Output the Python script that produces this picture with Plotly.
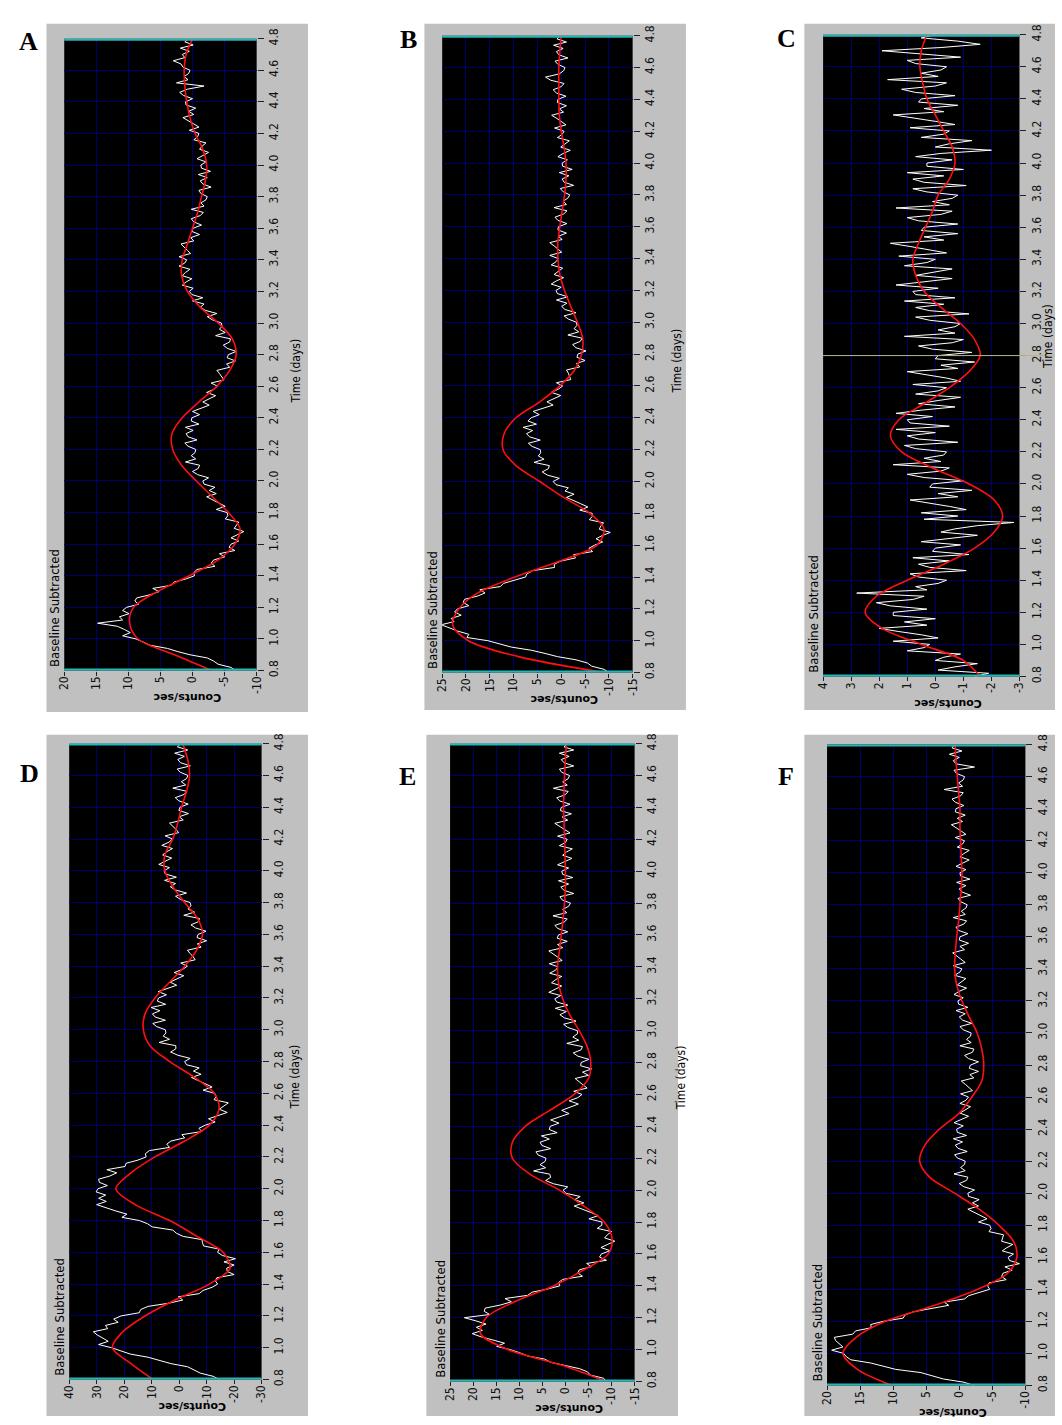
import plotly.graph_objects as go

W, H = 1062, 1425

# ---- sampling grids (days) ----
raw_days = [round(0.8 + 0.02 * i, 2) for i in range(201)]
fit_days = [round(0.8 + 0.1 * i, 1) for i in range(41)]

time_ticks = [0.8, 1.0, 1.2, 1.4, 1.6, 1.8, 2.0, 2.2, 2.4, 2.6, 2.8,
              3.0, 3.2, 3.4, 3.6, 3.8, 4.0, 4.2, 4.4, 4.6, 4.8]
time_labels = ["0.8", "1.0", "1.2", "1.4", "1.6", "1.8", "2.0", "2.2", "2.4", "2.6", "2.8",
               "3.0", "3.2", "3.4", "3.6", "3.8", "4.0", "4.2", "4.4", "4.6", "4.8"]

counts_ticks_A = [20, 15, 10, 5, 0, -5, -10]
counts_ticks_B = [25, 20, 15, 10, 5, 0, -5, -10, -15]
counts_ticks_C = [4, 3, 2, 1, 0, -1, -2, -3]
counts_ticks_D = [40, 30, 20, 10, 0, -10, -20, -30]
counts_ticks_E = [25, 20, 15, 10, 5, 0, -5, -10, -15]
counts_ticks_F = [20, 15, 10, 5, 0, -5, -10]

# ---- baseline-subtracted counts (every 0.02 d) and fitted curves (every 0.1 d) ----
raw_A = [
    -6.7, -6.0, -4.0, -3.3, -2.3, 0.4, 2.3, 3.9, 6.6, 7.8,
    8.8, 10.9, 9.7, 10.6, 11.7, 14.8, 10.9, 11.4, 9.9, 10.9,
    10.3, 8.4, 9.0, 8.7, 6.6, 5.2, 6.2, 3.3, 2.9, 1.0,
    -0.3, -0.2, -0.7, -3.5, -2.9, -3.3, -5.0, -4.2, -6.6, -5.7,
    -6.0, -7.2, -6.0, -7.0, -8.0, -6.5, -6.8, -7.2, -5.1, -5.5,
    -5.4, -3.7, -5.1, -4.2, -3.2, -2.2, -3.7, -2.6, -3.5, -1.8,
    -1.6, -2.5, -0.8, 0.0, -0.9, -1.1, 1.1, -0.5, 0.2, -0.4,
    -0.5, 0.7, 1.2, -0.7, 0.7, 1.0, -0.1, 1.1, -1.0, 0.2,
    0.1, -1.1, 0.0, -1.2, -2.6, -1.6, -2.5, -3.6, -2.2, -3.3,
    -3.9, -2.9, -4.9, -4.6, -4.2, -3.8, -5.8, -5.3, -6.7, -5.4,
    -5.6, -6.8, -5.4, -4.8, -5.8, -5.9, -3.6, -5.1, -4.2, -4.6,
    -4.5, -3.1, -2.3, -3.8, -2.0, -1.2, -1.8, 0.0, -1.6, 0.1,
    0.5, -0.1, 1.6, 1.0, 0.1, 1.6, 1.1, 0.4, 2.1, 1.2,
    0.9, 2.1, 0.3, 0.8, 1.3, 1.8, -0.2, 0.3, -1.1, 0.1,
    -0.1, -1.4, -0.2, 0.2, -1.2, -1.7, 0.2, -1.8, -1.3, -2.1,
    -2.3, -1.3, -1.0, -2.9, -1.6, -1.2, -2.3, -0.9, -2.8, -1.4,
    -1.3, -2.1, -0.7, -1.5, -2.5, -1.1, -1.5, -2.1, -0.2, -0.8,
    -1.0, 0.5, -1.0, -0.2, 0.6, 1.5, -0.2, 0.6, -0.5, 1.0,
    1.1, 0.0, 1.4, 2.0, 0.8, -1.8, 2.5, 0.7, 1.3, 0.6,
    0.4, 1.5, 1.8, 3.0, 1.2, 1.6, 0.5, 1.9, -0.1, 1.2,
    0.6,
]
fit_A = [-3.0, 2.8, 8.5, 9.8, 9.2, 5.5, 0.5, -4.0, -6.6, -7.4,
         -5.6, -3.1, -0.6, 1.7, 3.1, 3.2, 1.6, -1.0, -3.8, -5.8,
         -6.8, -6.2, -4.0, -1.2, 0.8, 1.7, 1.6, 0.8, 0.0, -0.8,
         -1.4, -2.0, -2.2, -1.6, -0.4, 0.4, 0.9, 1.2, 1.3, 1.0, 0.0]

raw_B = [
    -10.0, -9.0, -6.4, -5.5, -3.1, 0.8, 3.4, 6.3, 10.5, 12.9,
    15.4, 19.8, 19.4, 21.7, 23.7, 25.2, 22.5, 23.1, 21.0, 22.4,
    21.8, 19.4, 20.6, 20.3, 17.6, 16.0, 17.1, 12.8, 12.1, 9.5,
    7.5, 7.2, 6.0, 1.4, 1.5, 0.1, -3.0, -2.6, -6.6, -5.8,
    -7.0, -8.7, -7.3, -8.6, -10.3, -8.0, -8.3, -8.9, -5.9, -6.5,
    -6.5, -3.9, -5.6, -4.1, -2.5, -1.1, -2.7, -0.8, -1.5, 1.1,
    1.7, 0.4, 2.9, 4.0, 2.7, 2.5, 5.7, 3.6, 4.8, 4.3,
    4.4, 6.1, 6.9, 4.4, 6.6, 7.3, 6.0, 8.0, 5.2, 7.0,
    6.3, 4.6, 5.9, 4.0, 1.7, 3.0, 1.7, 0.1, 2.1, 0.6,
    -0.3, 1.0, -2.0, -1.8, -1.5, -1.1, -3.9, -3.2, -5.0, -3.3,
    -3.5, -5.2, -3.1, -2.4, -4.0, -4.4, -1.4, -3.7, -2.7, -3.3,
    -3.2, -1.5, -0.6, -3.1, -0.8, -0.1, -1.2, 1.0, -1.4, 0.8,
    1.1, 0.0, 2.1, 1.0, -0.5, 1.5, 0.7, -0.3, 2.1, 1.1,
    0.6, 2.4, -0.1, 0.6, 1.5, 2.4, -0.2, 0.6, -1.1, 0.7,
    0.6, -1.2, 0.7, 1.3, -0.5, -1.2, 1.5, -1.1, -0.4, -1.4,
    -1.8, -0.4, 0.2, -2.6, -0.6, -0.2, -1.6, 0.4, -2.3, -0.3,
    -0.2, -1.3, 0.7, -0.4, -1.9, 0.1, -0.7, -1.7, 0.8, -0.2,
    -0.6, 1.4, -1.0, -0.1, 0.9, 2.0, -0.5, 0.4, -1.1, 0.8,
    0.7, -1.0, 1.0, 1.7, 0.0, -0.6, 2.2, 3.3, 0.4, -0.5,
    -0.8, 0.7, 1.3, -1.4, 0.5, 1.0, -0.4, 1.6, -1.1, 0.9,
    0.2,
]
fit_B = [-9.0, 9.0, 19.5, 22.8, 21.5, 17.5, 9.7, 0.3, -7.5, -9.0,
         -6.0, -0.5, 4.5, 9.5, 12.2, 12.0, 9.5, 4.5, 0.3, -2.8,
         -4.3, -4.5, -3.4, -2.0, -0.7, 0.3, 0.7, 0.7, 0.3, -0.2,
         -0.7, -1.0, -1.0, -0.6, 0.0, 0.4, 0.5, 0.5, 0.5, 0.3, 0.0]

raw_C = [
    -1.4, -1.9, -0.1, -0.7, -1.5, 0.0, -0.3, -0.9, 1.0, 0.4,
    0.2, 1.5, -0.1, 0.5, 1.3, 2.0, 0.3, 1.1, 0.0, 1.5,
    1.5, 0.3, 1.6, 2.1, 0.8, 0.4, 2.8, 0.3, 0.7, -0.1,
    -0.4, 0.6, 0.9, -1.1, 0.2, 0.6, -0.5, 0.8, -1.2, 0.1,
    0.0, -0.9, 0.5, -0.4, -1.5, -0.2, -0.7, -1.5, -2.8, 0.4,
    -0.8, 0.5, -1.1, -0.5, 0.2, 0.9, -0.8, -0.1, -1.3, 0.2,
    0.1, -1.0, 0.4, 1.0, -0.2, -0.5, 1.5, -0.2, 0.4, -0.3,
    -0.4, 0.7, 1.1, -0.8, 0.6, 1.0, 0.0, 1.4, -0.5, 0.9,
    1.0, 0.1, 1.4, 0.5, -0.7, 0.6, -0.1, -0.9, 0.7, -0.1,
    -0.4, 0.8, -0.9, -0.4, 0.3, 1.0, -0.8, -0.2, -1.4, 0.0,
    -0.1, -1.3, 0.1, 0.6, -0.6, -1.0, 1.1, -0.7, -0.1, -0.7,
    -0.9, 0.2, 0.7, -1.2, 0.2, 0.7, -0.3, 1.1, -0.7, 0.7,
    0.8, -0.1, 1.4, 0.5, -0.6, 0.7, 0.1, -0.6, 1.1, 0.3,
    0.0, 1.3, -0.4, 0.2, 0.9, 1.6, -0.3, 0.4, -0.8, 0.5,
    0.4, -0.8, 0.6, 1.0, -0.2, -0.6, 1.4, -0.5, 0.1, -0.6,
    -0.8, 0.3, 0.8, -1.1, 0.4, 0.8, -0.3, 1.0, -1.0, 0.3,
    0.3, -0.6, 0.7, -0.2, -2.0, 0.0, -0.5, -1.3, 0.5, -0.3,
    -0.5, 0.9, -0.7, 0.0, 0.8, 1.5, -0.3, 0.4, -0.8, 0.6,
    0.5, -0.7, 0.7, 1.2, 0.0, -0.4, 1.7, -0.1, 0.5, -0.2,
    -0.4, 0.7, 1.0, -0.9, 0.5, 1.9, -0.2, -1.6, -0.8, 0.5,
    0.0,
]
fit_C = [-1.6, -1.0, 0.5, 1.9, 2.5, 2.1, 1.0, -0.3, -1.4, -2.1,
         -2.4, -2.1, -1.2, 0.1, 1.2, 1.6, 1.3, 0.4, -0.5, -1.2,
         -1.6, -1.4, -0.9, -0.2, 0.4, 0.7, 0.8, 0.6, 0.35, 0.1,
         -0.1, -0.5, -0.7, -0.6, -0.3, 0.0, 0.3, 0.45, 0.55, 0.5, 0.3]

raw_D = [
    -14.6, -12.4, -7.7, -5.3, -3.1, 3.0, 7.5, 11.3, 17.8, 21.4,
    24.6, 29.3, 25.8, 27.7, 29.8, 31.2, 26.0, 26.8, 22.2, 23.8,
    21.1, 14.5, 14.0, 11.3, 3.7, -1.3, 0.3, -7.3, -8.7, -12.0,
    -14.0, -13.2, -13.7, -20.0, -17.5, -17.3, -20.0, -16.3, -20.5, -15.7,
    -14.0, -14.6, -8.9, -8.5, -8.3, -1.5, 1.0, 2.3, 9.8, 11.5,
    14.5, 20.8, 19.0, 23.0, 26.8, 30.0, 26.5, 29.3, 26.7, 30.2,
    29.5, 26.1, 29.0, 29.3, 25.2, 22.7, 26.3, 19.7, 19.3, 15.0,
    12.0, 12.3, 10.8, 3.5, 4.5, 3.0, -2.0, -1.0, -8.3, -7.2,
    -9.5, -13.1, -10.7, -14.0, -17.5, -14.6, -16.3, -17.9, -12.7, -13.5,
    -13.0, -8.7, -12.0, -9.7, -7.2, -4.5, -8.0, -5.2, -7.3, -2.7,
    -2.0, -4.0, 0.5, 3.1, 1.2, 1.2, 7.3, 3.5, 5.8, 4.8,
    5.0, 8.2, 9.6, 5.0, 8.7, 9.7, 7.0, 10.2, 4.9, 7.9,
    7.5, 4.6, 7.6, 4.5, 0.9, 3.3, 1.0, -1.7, 1.8, -1.3,
    -3.0, -0.6, -5.8, -5.1, -4.0, -3.0, -8.0, -6.6, -10.0, -6.5,
    -6.9, -9.8, -6.0, -4.3, -7.0, -7.4, -1.7, -5.6, -3.2, -4.3,
    -4.0, -0.5, 1.3, -2.7, 1.5, 3.2, 1.3, 5.3, 1.0, 5.0,
    5.5, 3.5, 7.4, 5.3, 2.7, 6.0, 4.5, 2.4, 6.3, 3.7,
    2.4, 5.1, 0.2, 1.1, 2.3, 3.5, -1.5, 0.0, -3.4, 0.1,
    -0.3, -3.3, 0.1, 1.4, -1.8, -2.8, 2.3, -2.4, -0.8, -2.7,
    -3.2, -0.4, 0.7, -4.1, -0.5, 0.5, -1.9, 1.6, -3.1, 0.6,
    -0.6,
]
fit_D = [9.5, 17.5, 24.3, 20.5, 12.4, 1.5, -11.0, -18.5, -16.0, -6.5,
         3.4, 16.0, 23.0, 17.5, 8.8, -2.0, -11.0, -14.5, -12.8, -5.6,
         3.4, 10.6, 13.0, 12.4, 8.8, 3.4, -2.0, -6.3, -8.5, -6.7,
         -2.0, 2.3, 5.2, 5.2, 2.3, 0.5, -0.9, -2.7, -3.8, -3.1, -1.3]

raw_E = [
    -8.8, -8.3, -5.4, -4.8, -3.1, 0.4, 3.2, 4.5, 8.2, 9.9,
    12.0, 14.9, 13.2, 15.7, 18.3, 20.2, 18.0, 19.3, 17.2, 19.4,
    21.9, 16.4, 17.6, 17.4, 14.0, 11.7, 13.1, 8.2, 7.2, 3.8,
    1.2, 1.5, 0.6, -3.7, -2.7, -3.0, -5.6, -4.6, -8.9, -7.4,
    -7.8, -9.7, -7.7, -9.2, -10.7, -8.5, -9.1, -10.0, -6.9, -7.9,
    -7.9, -5.1, -7.1, -5.5, -3.8, -1.9, -4.0, -2.0, -3.2, -0.1,
    0.5, -0.5, 2.6, 4.3, 3.2, 3.4, 6.9, 4.3, 5.5, 4.4,
    4.2, 5.9, 6.4, 3.2, 5.1, 5.5, 3.5, 5.2, 1.8, 3.5,
    3.3, 1.4, 3.2, 1.3, -0.8, 0.8, -0.8, -2.8, -0.8, -2.7,
    -3.6, -1.8, -4.7, -3.9, -3.0, -2.1, -5.0, -3.7, -5.7, -3.3,
    -3.4, -5.1, -2.7, -1.7, -3.4, -3.7, -0.3, -2.9, -1.6, -2.6,
    -2.6, -0.5, 0.4, -2.3, 0.2, 1.2, -0.2, 2.2, -0.5, 1.9,
    2.3, 1.0, 3.6, 2.3, 0.8, 3.0, 2.1, 0.8, 3.4, 2.1,
    1.6, 3.5, 0.7, 1.6, 2.6, 3.6, 0.6, 1.7, -0.4, 1.8,
    1.5, -0.5, 1.6, 2.3, 0.3, -0.4, 2.7, -0.3, 0.6, -0.7,
    -1.1, 0.7, 1.2, -1.8, 0.3, 1.0, -0.7, 1.5, -1.6, 0.6,
    0.8, -0.7, 1.7, 0.2, -1.4, 0.6, -0.2, -1.5, 1.3, 0.0,
    -0.4, 1.7, -1.0, 0.1, 1.2, 2.3, -0.5, 0.7, -1.3, 1.1,
    0.9, -1.0, 1.2, 1.9, 0.0, -0.6, 2.6, -0.4, 0.6, -0.6,
    -0.9, 0.8, 1.3, -1.8, 0.3, 0.9, -0.8, 1.3, -1.8, 0.3,
    -0.5,
]
fit_E = [-8.8, 0.5, 12.5, 18.4, 17.2, 11.0, 2.5, -4.0, -9.3, -10.1,
         -8.4, -4.0, 1.3, 7.7, 11.5, 11.5, 8.7, 3.4, -1.9, -5.0,
         -5.5, -4.7, -3.0, -0.9, 0.6, 1.5, 1.7, 1.3, 0.9, 0.5,
         0.2, 0.0, 0.0, 0.1, 0.2, 0.3, 0.4, 0.3, 0.2, 0.0, -0.2]

raw_F = [
    -2.2, -0.7, 2.4, 4.0, 5.8, 9.6, 11.6, 13.4, 16.4, 17.1,
    17.5, 19.3, 17.6, 18.1, 18.7, 18.9, 16.1, 15.7, 13.3, 13.4,
    11.5, 8.5, 8.2, 6.9, 3.9, 1.6, 2.3, -0.8, -1.4, -3.1,
    -4.6, -4.3, -4.5, -7.1, -6.4, -6.6, -8.0, -6.9, -9.1, -7.6,
    -7.4, -8.2, -6.5, -7.2, -8.1, -6.4, -6.5, -6.7, -4.5, -4.8,
    -4.6, -2.9, -4.2, -3.3, -2.3, -1.3, -2.9, -2.0, -3.0, -1.4,
    -1.3, -2.3, -0.7, 0.0, -1.1, -1.3, 0.8, -0.9, -0.2, -0.8,
    -0.9, 0.3, 0.7, -1.2, 0.2, 0.6, -0.5, 0.9, -1.1, 0.3,
    0.4, -0.6, 0.8, -0.2, -1.4, -0.1, -0.8, -1.7, -0.1, -1.0,
    -1.4, -0.2, -2.0, -1.5, -0.9, -0.3, -2.2, -1.6, -2.9, -1.5,
    -1.7, -2.9, -1.4, -0.8, -2.0, -2.2, -0.1, -1.8, -1.1, -1.7,
    -1.8, -0.6, -0.1, -1.9, -0.5, 0.0, -0.9, 0.5, -1.3, 0.1,
    0.2, -0.6, 0.8, 0.0, -1.1, 0.3, -0.3, -1.0, 0.7, -0.1,
    -0.4, 0.9, -0.9, -0.3, 0.4, 1.0, -0.8, -0.1, -1.4, 0.0,
    -0.1, -1.3, 0.1, 0.5, -0.7, -1.1, 0.9, -0.9, -0.3, -1.0,
    -1.2, -0.2, 0.2, -1.7, -0.4, 0.0, -1.0, 0.4, -1.6, -0.2,
    -0.1, -1.0, 0.5, -0.4, -1.5, -0.1, -0.7, -1.5, 0.3, -0.5,
    -0.8, 0.6, -1.0, -0.3, 0.5, 1.2, -0.5, 0.3, -0.9, 0.6,
    0.5, -0.7, 0.6, 1.1, -0.2, -0.6, 2.3, -0.5, 0.1, -0.6,
    -0.8, 0.4, 0.8, -2.3, 0.5, 0.9, 0.0, 1.5, -0.4, 1.1,
    0.7,
]
fit_F = [10.2, 15.4, 17.6, 15.6, 11.2, 3.7, -2.8, -7.3, -8.7, -8.2,
         -6.0, -3.0, 0.7, 4.5, 6.0, 5.2, 3.0, 0.0, -1.9, -3.4,
         -3.7, -3.4, -2.7, -1.5, -0.4, 0.4, 0.7, 0.6, 0.4, 0.1,
         -0.1, -0.3, -0.4, -0.3, -0.2, -0.1, -0.1, 0.1, 0.3, 0.5, 0.6]

# ---- page layout (pixels: left, top, right, bottom) ----
panels = [
    dict(letter="A", raw=raw_A, fit=fit_A, ticks=counts_ticks_A,
         plot=(58, 28, 253, 668), frame=(40, 13, 305, 710),
         letter_xy=(22, 31), time_title=(293, 365)),
    dict(letter="B", raw=raw_B, fit=fit_B, ticks=counts_ticks_B,
         plot=(441, 25, 634, 670), frame=(423, 13, 688, 708),
         letter_xy=(407, 29), time_title=(678, 355)),
    dict(letter="C", raw=raw_C, fit=fit_C, ticks=counts_ticks_C,
         plot=(827, 24, 1026, 674), frame=(808, 13, 1062, 708),
         letter_xy=(790, 28), time_title=(1055, 330)),
    dict(letter="D", raw=raw_D, fit=fit_D, ticks=counts_ticks_D,
         plot=(63, 742, 258, 1386), frame=(40, 733, 305, 1423),
         letter_xy=(23, 772), time_title=(292, 1080)),
    dict(letter="E", raw=raw_E, fit=fit_E, ticks=counts_ticks_E,
         plot=(449, 742, 636, 1388), frame=(425, 733, 680, 1423),
         letter_xy=(406, 775), time_title=(683, 1080)),
    dict(letter="F", raw=raw_F, fit=fit_F, ticks=counts_ticks_F,
         plot=(831, 743, 1032, 1392), frame=(808, 733, 1062, 1423),
         letter_xy=(789, 775), time_title=None),
]

NARROW = "Liberation Sans Narrow, Arial Narrow, DejaVu Sans Condensed, sans-serif"
GRID = "#00006c"
FRAME = "#c0c0c0"
CYAN = "#22b8b8"


def px(x):
    return x / W


def py(y):
    return 1 - y / H


fig = go.Figure()
shapes, annotations = [], []
layout_axes = {}

for i, p in enumerate(panels, start=1):
    sfx = "" if i == 1 else str(i)
    xa, ya = "x" + sfx, "y" + sfx
    l, t, r, b = p["plot"]
    fl, ft, fr, fb = p["frame"]

    # grey instrument frame and black plotting surface
    shapes.append(dict(type="rect", xref="paper", yref="paper", layer="below",
                       x0=px(fl), x1=px(fr), y0=py(fb), y1=py(ft),
                       fillcolor=FRAME, line=dict(width=0)))
    shapes.append(dict(type="rect", xref="paper", yref="paper", layer="below",
                       x0=px(l), x1=px(r), y0=py(b), y1=py(t),
                       fillcolor="black", line=dict(width=0)))

    fig.add_trace(go.Scatter(x=p["raw"], y=raw_days, mode="lines",
                             line=dict(color="white", width=1),
                             xaxis=xa, yaxis=ya, hoverinfo="skip"))
    fig.add_trace(go.Scatter(x=p["fit"], y=fit_days, mode="lines",
                             line=dict(color="#ff1010", width=1.6, shape="spline", smoothing=0.9),
                             xaxis=xa, yaxis=ya, hoverinfo="skip"))

    ticks = p["ticks"]
    layout_axes["xaxis" + sfx] = dict(
        domain=[px(l), px(r)], range=[ticks[0], ticks[-1]], anchor=ya,
        tickmode="array", tickvals=ticks, ticktext=[str(v) for v in ticks],
        tickangle=-90, ticks="outside", ticklen=4, tickcolor="#222",
        ticklabelstandoff=-4,
        tickfont=dict(family=NARROW, size=12, color="#111"),
        showgrid=True, gridcolor=GRID, gridwidth=1,
        zeroline=False, showline=False, fixedrange=True)
    layout_axes["yaxis" + sfx] = dict(
        domain=[py(b), py(t)], range=[0.8, 4.8], anchor=xa, side="right",
        tickmode="array", tickvals=time_ticks, ticktext=time_labels,
        tickangle=-90, ticks="outside", ticklen=6, tickcolor="#222",
        ticklabelstandoff=0,
        tickfont=dict(family=NARROW, size=12, color="#111"),
        showgrid=True, gridcolor=GRID, gridwidth=1,
        zeroline=False, showline=False, fixedrange=True)

    # cyan limit markers along the first and last sample
    for yy in (t + 1, b - 1):
        shapes.append(dict(type="line", xref="paper", yref="paper", layer="above",
                           x0=px(l), x1=px(r), y0=py(yy), y1=py(yy),
                           line=dict(color=CYAN, width=2)))

    annotations.append(dict(text="<b>%s</b>" % p["letter"], xref="paper", yref="paper",
                            x=px(p["letter_xy"][0]), y=py(p["letter_xy"][1]),
                            showarrow=False, xanchor="center", yanchor="middle",
                            font=dict(family="Liberation Serif, DejaVu Serif, serif",
                                      size=26, color="black")))
    annotations.append(dict(text="Baseline Subtracted", xref="paper", yref="paper",
                            x=px(l - 10), y=py(b - 2), textangle=-90,
                            showarrow=False, xanchor="center", yanchor="bottom",
                            font=dict(family=NARROW, size=13, color="black")))
    annotations.append(dict(text="<b>Counts/sec</b>", xref="paper", yref="paper",
                            x=px((l + r) / 2 + 27), y=py(b + 28), textangle=180,
                            showarrow=False, xanchor="center", yanchor="middle",
                            font=dict(family="DejaVu Sans, sans-serif", size=11, color="black")))
    if p["time_title"] is not None:
        tx, ty = p["time_title"]
        annotations.append(dict(text="Time (days)", xref="paper", yref="paper",
                                x=px(tx), y=py(ty), textangle=-90,
                                showarrow=False, xanchor="center", yanchor="middle",
                                font=dict(family=NARROW, size=12, color="black")))

# cursor line across panel C at day 2.8
cl, ct, cr, cb = panels[2]["plot"]
cursor_y = cb - (2.8 - 0.8) * (cb - ct) / 4.0
shapes.append(dict(type="line", xref="paper", yref="paper", layer="above",
                   x0=px(cl), x1=px(W), y0=py(cursor_y), y1=py(cursor_y),
                   line=dict(color="#b9b97a", width=1)))

fig.update_layout(
    width=W, height=H, margin=dict(l=0, r=0, t=0, b=0),
    paper_bgcolor="white", plot_bgcolor="rgba(0,0,0,0)",
    showlegend=False, shapes=shapes, annotations=annotations,
    **layout_axes)

fig.write_html("out.html")
